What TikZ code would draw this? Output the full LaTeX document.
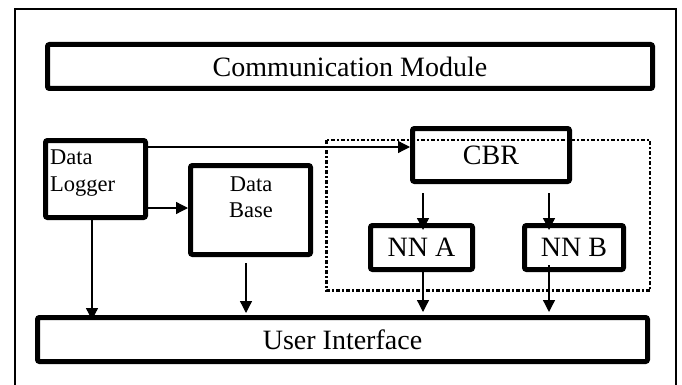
\documentclass[tikz,border=0pt]{standalone}
\usepackage{fontspec}
\setmainfont{Liberation Serif}
\usetikzlibrary{arrows.meta}
\begin{document}
\begin{tikzpicture}[x=1pt,y=-1pt,
  blk/.style={draw, rectangle, line width=5pt, rounded corners=2pt, inner sep=0pt, font=\fontsize{28}{32}\selectfont},
  arr/.style={line width=1.3pt, -{Triangle[length=12pt,width=12pt]}},
  grp/.style={draw, line width=2.6pt, dash pattern=on 4pt off 2pt on 2pt off 2pt}]
\useasboundingbox (0,0) rectangle (682,385);
\draw[line width=1.3pt] (15,9) rectangle (676,386);
\node[blk, minimum width=605pt, minimum height=44pt] (comm) at (350,66.5) {Communication Module};
\draw[grp] (326.5,140) rectangle (650,290.5);
\node[blk, minimum width=100pt, minimum height=77pt] (dl) at (95.5,179) {};
\node[anchor=north west, align=left, inner sep=0pt, font=\fontsize{22.5}{27}\selectfont] (dltext) at (50,150) {Data\\Logger};
\node[blk, minimum width=120pt, minimum height=89pt] (db) at (250.5,210) {};
\node[align=center, inner sep=0pt, font=\fontsize{22.5}{25.5}\selectfont] (dbtext) at (251,197) {Data\\Base};
\node[blk, minimum width=157pt, minimum height=53pt] (cbr) at (491,155) {CBR};
\node[blk, minimum width=102pt, minimum height=44pt] (nna) at (421.5,247.5) {NN A};
\node[blk, minimum width=99pt, minimum height=44pt] (nnb) at (574,247.5) {NN B};
\node[blk, minimum width=610pt, minimum height=44pt] (ui) at (342.5,339.5) {User Interface};
\draw[arr] (dl.east |- 0,147) -- (cbr.west |- 0,147);
\draw[arr] (dl.east |- 0,208) -- (db.west |- 0,208);
\draw[arr, shorten >=-5pt] (dl.south -| 92,0) -- (ui.north -| 92,0);
\draw[arr, shorten <=6pt, shorten >=2pt] (db.south -| 246,0) -- (ui.north -| 246,0);
\draw[arr, shorten <=9pt, shorten >=-7pt] (cbr.south -| 423,0) -- (nna.north -| 423,0);
\draw[arr, shorten <=9pt, shorten >=-7pt] (cbr.south -| 549,0) -- (nnb.north -| 549,0);
\draw[arr, shorten >=3pt] (nna.south -| 423,0) -- (ui.north -| 423,0);
\draw[arr, shorten <=-7pt, shorten >=3pt] (nnb.south -| 549,0) -- (ui.north -| 549,0);
\end{tikzpicture}
\end{document}
